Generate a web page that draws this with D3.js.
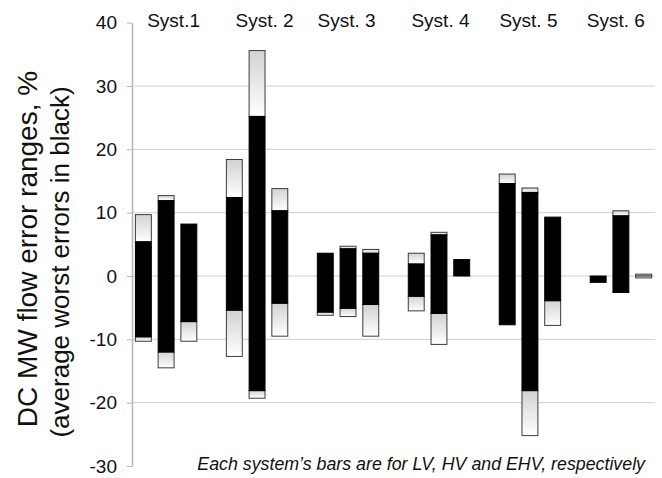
<!DOCTYPE html>
<html>
<head>
<meta charset="utf-8">
<script src="https://cdn.jsdelivr.net/npm/d3@7"></script>
<style>
  body { margin: 0; background: #fff; }
  svg { display: block; font-family: "Liberation Sans", Arial, sans-serif; }
</style>
</head>
<body>
<div id="chart"></div>
<script>
// systems and voltage levels (bars in each group: LV, HV, EHV)
const systems  = ['Syst.1', 'Syst. 2', 'Syst. 3', 'Syst. 4', 'Syst. 5', 'Syst. 6'];
const voltages = ['LV', 'HV', 'EHV'];

// error ranges in %, one row per system, columns LV / HV / EHV
const worstHigh = [[9.7, 12.7, 8.2], [18.4, 35.6, 13.8], [3.6, 4.7, 4.2], [3.6, 6.9, 2.6], [16.1, 13.9, 9.3], [0, 10.3, 0.3]];
const avgHigh   = [[5.4, 11.9, 8.2], [12.4, 25.2, 10.3], [3.6, 4.3, 3.6], [1.9, 6.5, 2.6], [14.6, 13.2, 9.3], [0, 9.5, 0]];
const avgLow    = [[-9.6, -12.0, -7.2], [-5.4, -18.1, -4.3], [-5.7, -5.1, -4.5], [-3.2, -5.9, 0], [-7.7, -18.1, -3.9], [-1.0, -2.6, 0]];
const worstLow  = [[-10.3, -14.5, -10.3], [-12.7, -19.3, -9.5], [-6.2, -6.4, -9.5], [-5.5, -10.8, 0], [-7.7, -25.2, -7.8], [-1.0, -2.6, -0.3]];

const yTicks = [40, 30, 20, 10, 0, -10, -20, -30];

const width = 662, height = 478;
const margin = {top: 22.7, right: 7, bottom: 12, left: 132};

// the system labels were placed by hand, a bit off the group centres
const labelShift = [7.5, 7.5, -1.5, 1.5, -1.5, -5];

const svg = d3.select('#chart')
  .append('svg')
  .attr('width', width)
  .attr('height', height);

// gradient for the worst-error parts
const grad = svg.append('defs').append('linearGradient')
  .attr('id', 'worst')
  .attr('x1', 0).attr('y1', 0).attr('x2', 0).attr('y2', 1);
grad.append('stop').attr('offset', '0%').attr('stop-color', '#d2d2d2');
grad.append('stop').attr('offset', '100%').attr('stop-color', '#ffffff');

const y = d3.scaleLinear()
  .domain([-30, 40])
  .range([height - margin.bottom, margin.top]);

// groups: 3 bars + one empty slot between systems
const x0 = d3.scaleBand()
  .domain(systems)
  .range([margin.left, width - margin.right])
  .paddingInner(0.25)
  .paddingOuter(0);

const x1 = d3.scaleBand()
  .domain(voltages)
  .range([0, x0.bandwidth()])
  .paddingInner(0.3)
  .paddingOuter(0.15);

// gridlines
svg.append('g')
  .selectAll('line')
  .data(yTicks.filter(t => t !== 40 && t !== -30))
  .enter().append('line')
  .attr('x1', margin.left)
  .attr('x2', width - margin.right)
  .attr('y1', d => y(d))
  .attr('y2', d => y(d))
  .style('stroke', '#cfcfcf')
  .style('stroke-width', 1);

// y axis
const yAxis = svg.append('g')
  .attr('transform', `translate(${margin.left}, 0)`)
  .call(d3.axisLeft(y).tickValues(yTicks).tickFormat(d => String(d))
    .tickSize(5).tickSizeOuter(0).tickPadding(10));
yAxis.select('.domain').style('stroke', '#b5b5b5').style('stroke-width', 1.5);
yAxis.selectAll('.tick line').style('stroke', '#b5b5b5');
yAxis.selectAll('.tick text')
  .style('font-size', '19px')
  .style('fill', '#111');

// flatten data into bars
let bars = [];
systems.forEach(function (s, i) {
  voltages.forEach(function (v, j) {
    bars.push({
      sys: s, volt: v,
      wh: worstHigh[i][j], ah: avgHigh[i][j],
      al: avgLow[i][j], wl: worstLow[i][j]
    });
  });
});

const bw = x1.bandwidth();
const g = svg.append('g');
const barX = d => x0(d.sys) + x1(d.volt);

// worst errors, upper part
g.selectAll('.worst-up')
  .data(bars.filter(d => d.wh > d.ah))
  .enter().append('rect')
  .attr('class', 'worst-up')
  .attr('x', barX)
  .attr('width', bw)
  .attr('y', d => y(d.wh))
  .attr('height', d => y(d.ah) - y(d.wh))
  .style('fill', 'url(#worst)')
  .style('stroke', '#3c3c3c')
  .style('stroke-width', 1);

// worst errors, lower part
g.selectAll('.worst-down')
  .data(bars.filter(d => d.wl < d.al))
  .enter().append('rect')
  .attr('class', 'worst-down')
  .attr('x', barX)
  .attr('width', bw)
  .attr('y', d => y(d.al))
  .attr('height', d => y(d.wl) - y(d.al))
  .style('fill', 'url(#worst)')
  .style('stroke', '#3c3c3c')
  .style('stroke-width', 1);

// average errors in black
g.selectAll('.avg')
  .data(bars.filter(d => d.ah > d.al))
  .enter().append('rect')
  .attr('class', 'avg')
  .attr('x', barX)
  .attr('width', bw)
  .attr('y', d => y(d.ah))
  .attr('height', d => y(d.al) - y(d.ah))
  .style('fill', '#000')
  .style('stroke', '#000')
  .style('stroke-width', 1);

// system labels
svg.append('g')
  .selectAll('text')
  .data(systems)
  .enter().append('text')
  .attr('x', (d, i) => x0(d) + x0.bandwidth() / 2 + labelShift[i])
  .attr('y', 27)
  .style('text-anchor', 'middle')
  .style('font-size', '19px')
  .style('fill', '#111')
  .text(d => d);

// axis titles
svg.append('text')
  .attr('transform', 'translate(37, 249) rotate(-90)')
  .style('text-anchor', 'middle')
  .style('font-size', '28px')
  .style('fill', '#111')
  .text('DC MW flow error ranges,  %');

svg.append('text')
  .attr('transform', 'translate(69, 262) rotate(-90)')
  .style('text-anchor', 'middle')
  .style('font-size', '26px')
  .style('fill', '#111')
  .text('(average worst errors in black)');

// footnote
svg.append('text')
  .attr('x', 645)
  .attr('y', 470)
  .style('text-anchor', 'end')
  .style('font-size', '17.8px')
  .style('font-style', 'italic')
  .style('fill', '#111')
  .text('Each system\u2019s bars are for LV, HV and EHV, respectively');
</script>
</body>
</html>
